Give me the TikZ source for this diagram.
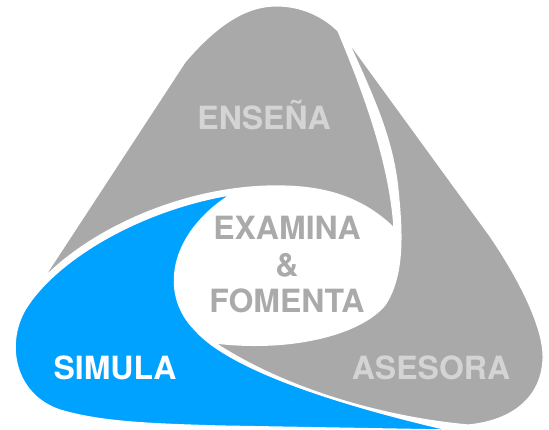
\documentclass[tikz,border=0pt]{standalone}
\usepackage{fontspec}
\setmainfont{TeX Gyre Heros}
\definecolor{shapegray}{RGB}{169,169,169}
\definecolor{shapeblue}{RGB}{0,162,255}
\definecolor{lightlabel}{RGB}{212,212,212}
\definecolor{centerlabel}{RGB}{170,170,170}
\begin{document}
\begin{tikzpicture}[x=1pt,y=-1pt,
  petal/.style={draw=white,line width=1.2pt,line join=round},
  lbl/.style={font=\fontsize{32}{32}\selectfont\bfseries,inner sep=0pt,anchor=base}]
\useasboundingbox (0,0) rectangle (549,430);
% top petal (ENSENA)
\path[petal,fill=shapegray] (43,279) -- (185,62)
  .. controls (225,15) and (255,5) .. (280,6)
  .. controls (305,7) and (325,18) .. (338,31)
  .. controls (365,95) and (390,165) .. (394,228)
  .. controls (360,195) and (320,185) .. (270,186)
  .. controls (180,188) and (90,230) .. (43,279) -- cycle;
% right petal (ASESORA)
\path[petal,fill=shapegray] (348,41) -- (490,236)
  .. controls (520,280) and (545,330) .. (543,360)
  .. controls (541,398) and (512,421) .. (468,425)
  .. controls (390,418) and (290,392) .. (215,343)
  .. controls (290,352) and (360,335) .. (385,305)
  .. controls (405,275) and (402,230) .. (398,190)
  .. controls (393,140) and (375,100) .. (348,41) -- cycle;
% left petal (SIMULA)
\path[petal,fill=shapeblue] (230,195)
  .. controls (140,210) and (55,260) .. (25,310)
  .. controls (5,345) and (15,395) .. (60,410)
  .. controls (100,422) and (150,424) .. (220,426)
  -- (448,430)
  .. controls (340,405) and (230,370) .. (195,330)
  .. controls (160,295) and (168,235) .. (230,195) -- cycle;
% labels
\node[lbl,text=lightlabel] (ensena) at (264,130) {ENSEÑA};
\node[lbl,text=lightlabel] (asesora) at (431,380) {ASESORA};
\node[lbl,text=white] (simula) at (115,380) {SIMULA};
\node[lbl,text=centerlabel] (examina) at (287,240) {EXAMINA};
\node[lbl,text=centerlabel] (amp) at (287,277) {\&};
\node[lbl,text=centerlabel] (fomenta) at (287,313) {FOMENTA};
\end{tikzpicture}
\end{document}
